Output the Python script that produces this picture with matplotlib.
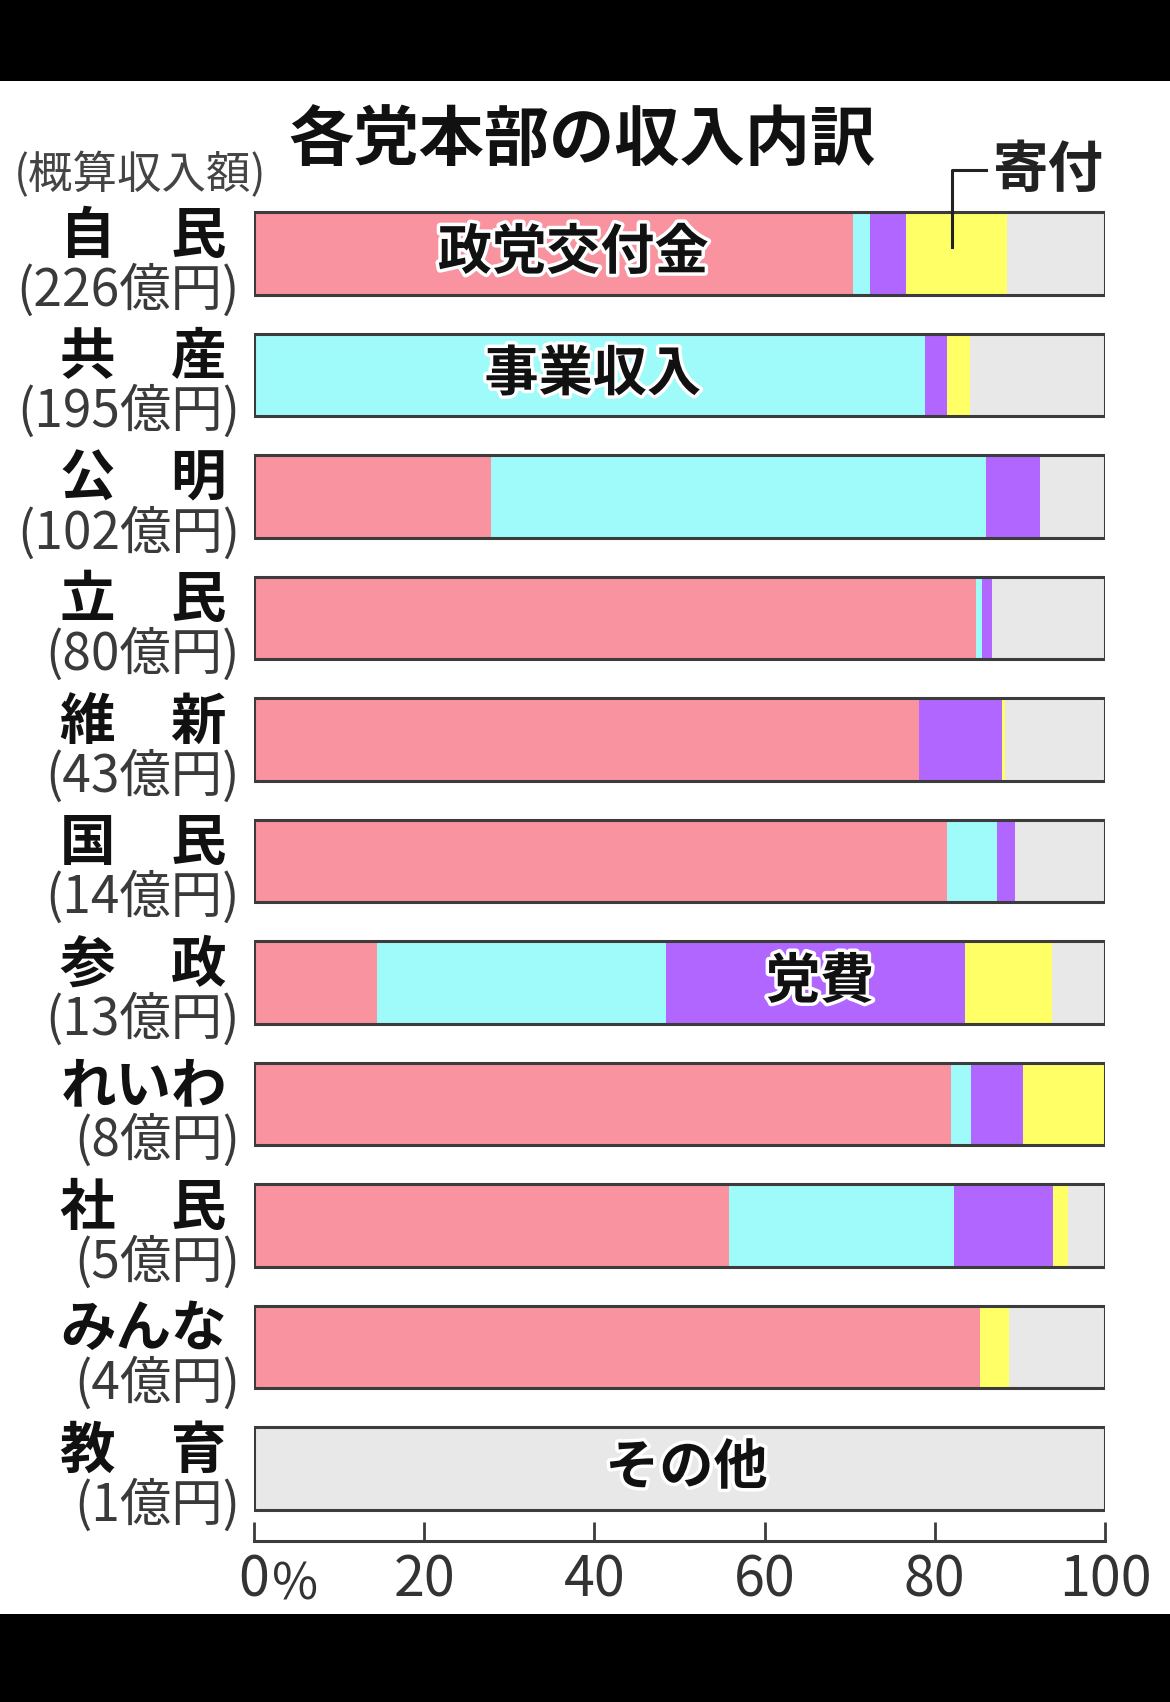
import matplotlib.pyplot as plt
import matplotlib.patheffects as pe
from matplotlib.patches import Rectangle
import numpy as np

plt.rcParams['font.family'] = ['Noto Sans CJK JP', 'DejaVu Sans']

# =========================================================
# Data (share of income, %)
# =========================================================
parties = ["自\u3000民", "共\u3000産", "公\u3000明", "立\u3000民", "維\u3000新",
           "国\u3000民", "参\u3000政", "れいわ", "社\u3000民", "みんな", "教\u3000育"]
amounts = ["(226億円)", "(195億円)", "(102億円)", "(80億円)", "(43億円)",
           "(14億円)", "(13億円)", "(8億円)", "(5億円)", "(4億円)", "(1億円)"]

subsidy  = [70.4, 0.0, 27.9, 84.9, 78.1, 81.4, 14.5, 81.9, 55.8, 85.3, 0.0]
business = [2.0, 78.9, 58.1, 0.7, 0.0, 5.9, 33.9, 2.4, 26.5, 0.0, 0.0]
dues     = [4.2, 2.5, 6.4, 1.1, 9.8, 2.1, 35.1, 6.1, 11.6, 0.0, 0.0]
donation = [11.9, 2.7, 0.0, 0.0, 0.3, 0.0, 10.3, 9.6, 1.7, 3.4, 0.0]

series = [subsidy, business, dues, donation]
colors = ["#F9939F", "#9FFAFA", "#B066FF", "#FFFF66"]
other_color = "#E8E8E8"

tick_values = [0, 20, 40, 60, 80, 100]
tick_labels = ["0", "20", "40", "60", "80", "100"]

# in-bar labels: (text, bar index, x position)
inbar_labels = [("政党交付金", 0, 37.5), ("事業収入", 1, 39.8),
                ("党費", 6, 66.5), ("その他", 10, 50.8)]

# =========================================================
# Figure
# =========================================================
fig = plt.figure(figsize=(11.7, 17.02), dpi=100)
fig.patch.set_facecolor("white")

# black bands top / bottom
fig.patches.append(Rectangle((0, 1 - 81 / 1702), 1, 81 / 1702, transform=fig.transFigure,
                             facecolor="black", edgecolor="none", zorder=0))
fig.patches.append(Rectangle((0, 0), 1, 88 / 1702, transform=fig.transFigure,
                             facecolor="black", edgecolor="none", zorder=0))

ax = fig.add_axes([254 / 1170, 1 - 1541 / 1702, 851 / 1170, (1541 - 192.75) / 1702])
ax.set_facecolor("none")

y = np.arange(len(parties))
bar_h = 0.68
left = np.zeros(len(parties))
for vals, col in zip(series, colors):
    vals = np.array(vals)
    ax.barh(y, vals, left=left, height=bar_h, color=col, edgecolor="none", zorder=2)
    left += vals
other = 100 - left
ax.barh(y, other, left=left, height=bar_h, color=other_color, edgecolor="none", zorder=2)
totals = left + other
ax.barh(y, totals, height=bar_h, fill=False, edgecolor="#3c3c3c", linewidth=2.2, zorder=3)

# in-bar labels with white halo
for txt, idx, xpos in inbar_labels:
    ax.text(xpos, idx, txt, ha="center", va="center", fontsize=39, fontweight="bold",
            color="#111111", zorder=5,
            path_effects=[pe.withStroke(linewidth=5, foreground="white")])

# party names and amounts
for i, (name, amt) in enumerate(zip(parties, amounts)):
    ax.annotate(name, xy=(0, i), xytext=(-19.5, 12), textcoords="offset points",
                ha="right", va="center", fontsize=40, fontweight="bold",
                color="#111111", annotation_clip=False)
    ax.annotate(amt, xy=(0, i), xytext=(-10, -27), textcoords="offset points",
                ha="right", va="center", fontsize=37, color="#3a3a3a",
                annotation_clip=False)

# donation leader line and label
ax.plot([82.0, 82.0, 86.0], [-0.05, -0.69, -0.69], color="#222222", linewidth=2.2,
        clip_on=False, zorder=6)
ax.text(86.8, -0.68, "寄付", ha="left", va="center", fontsize=40, fontweight="bold",
        color="#222222", clip_on=False)

# axes
ax.set_xlim(0, 100)
ax.set_ylim(10.597, -0.5)
ax.set_yticks([])
for s in ["left", "top", "right"]:
    ax.spines[s].set_visible(False)
ax.spines["bottom"].set_linewidth(2.2)
ax.spines["bottom"].set_color("#3c3c3c")
ax.set_xticks(tick_values)
ax.set_xticklabels(tick_labels, fontsize=40, color="#333333")
ax.tick_params(axis="x", direction="in", length=14, width=2, color="#3c3c3c", pad=8)
ax.annotate("%", xy=(0, 0), xycoords=("data", "axes fraction"), xytext=(13, -32),
            textcoords="offset points", ha="left", va="center", fontsize=36,
            color="#333333", annotation_clip=False)

# titles
fig.text(582 / 1170, 1 - 141 / 1702, "各党本部の収入内訳", ha="center", va="center",
         fontsize=47, fontweight="bold", color="#111111")
fig.text(14 / 1170, 1 - 175 / 1702, "(概算収入額)", ha="left", va="center",
         fontsize=32, color="#444444")

plt.savefig("out.png", dpi=100)
